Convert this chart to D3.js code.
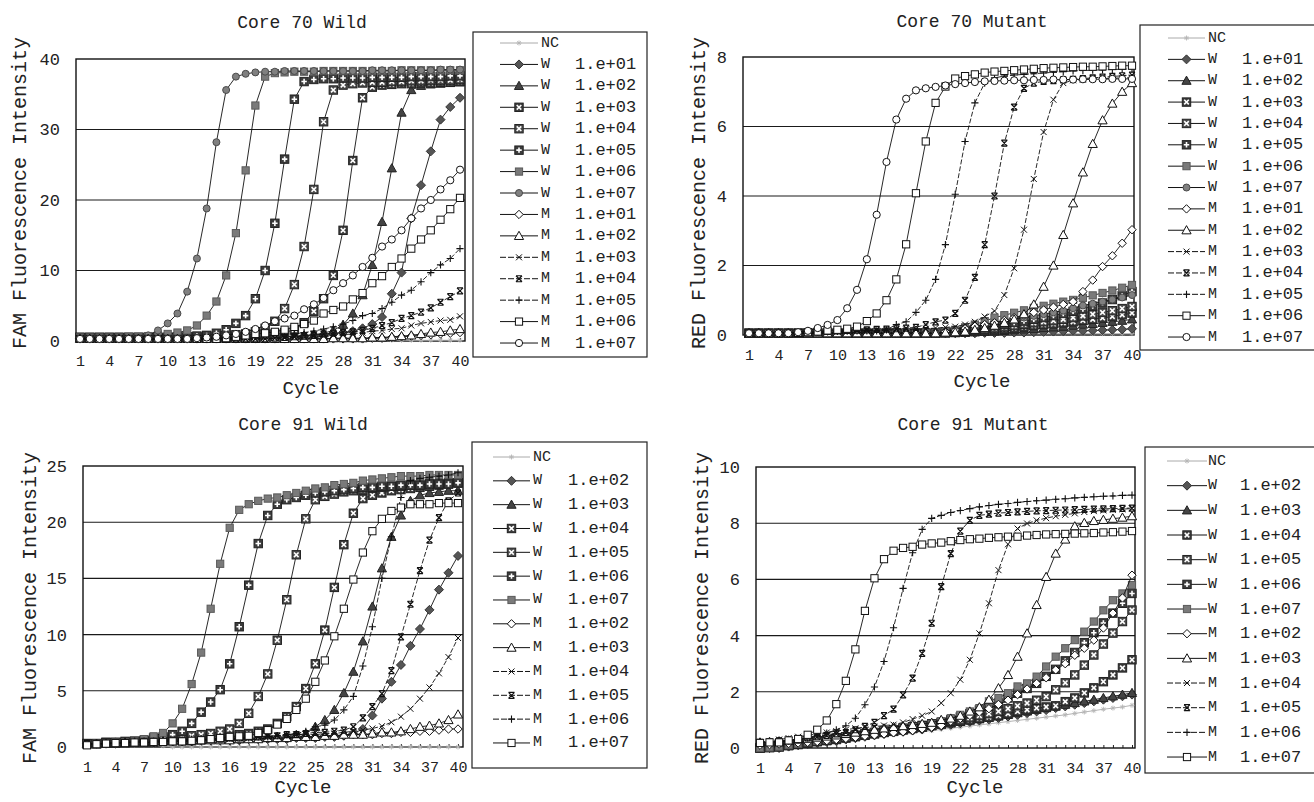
<!DOCTYPE html>
<html lang="en">
<head>
<meta charset="utf-8">
<title>Core 70 / Core 91 amplification curves</title>
<script src="https://cdn.jsdelivr.net/npm/d3@7"></script>
<style>
  body { margin: 0; background: #fff; }
  text { font-family: "Liberation Mono", "DejaVu Sans Mono", monospace; fill: #222; }
</style>
</head>
<body>
<svg id="chart" width="1314" height="802"></svg>
<script>
// ---- data ----
var cycles = d3.range(1, 41);
var cycleTicks = [1, 4, 7, 10, 13, 16, 19, 22, 25, 28, 31, 34, 37, 40];

var labels70 = ["NC", "W 1.e+01", "W 1.e+02", "W 1.e+03", "W 1.e+04", "W 1.e+05", "W 1.e+06", "W 1.e+07",
  "M 1.e+01", "M 1.e+02", "M 1.e+03", "M 1.e+04", "M 1.e+05", "M 1.e+06", "M 1.e+07"];
var labels91 = ["NC", "W 1.e+02", "W 1.e+03", "W 1.e+04", "W 1.e+05", "W 1.e+06", "W 1.e+07",
  "M 1.e+02", "M 1.e+03", "M 1.e+04", "M 1.e+05", "M 1.e+06", "M 1.e+07"];

// Core 70 Wild (FAM)
var core70Wild = [
  [0.2,0.2,0.2,0.2,0.2,0.2,0.2,0.2,0.2,0.2, 0.2,0.2,0.2,0.2,0.2,0.2,0.2,0.2,0.2,0.2, 0.1,0.1,0.1,0.1,0.1,0.1,0.1,0.1,0.1,0.1, 0.1,0.1,0.1,0.1,0.1,0.1,0.1,0.1,0.1,0.1],
  [0.4,0.4,0.4,0.4,0.4,0.4,0.4,0.4,0.4,0.4, 0.4,0.4,0.4,0.4,0.5,0.5,0.5,0.5,0.5,0.5, 0.5,0.6,0.6,0.7,0.8,0.9,1.0,1.2,1.4,1.8, 2.4,3.4,6.7,9.7,17.4,22.1,26.9,31.4,33.2,34.5],
  [0.4,0.4,0.4,0.4,0.4,0.4,0.4,0.4,0.4,0.4, 0.4,0.4,0.5,0.5,0.5,0.5,0.5,0.5,0.6,0.6, 0.6,0.6,0.7,0.8,0.9,1.1,1.5,2.3,3.9,6.5, 10.8,16.9,24.5,32.4,35.6,36.2,36.4,36.5,36.6,36.7],
  [0.5,0.5,0.5,0.5,0.5,0.5,0.5,0.5,0.5,0.5, 0.5,0.5,0.5,0.6,0.6,0.6,0.7,0.7,0.8,0.9, 1.0,1.2,1.6,2.6,4.2,6.0,9.3,15.7,25.6,34.5, 36.0,36.3,36.4,36.5,36.5,36.6,36.6,36.7,36.7,36.8],
  [0.5,0.5,0.5,0.5,0.5,0.5,0.5,0.5,0.5,0.5, 0.5,0.6,0.6,0.7,0.7,0.8,0.9,1.0,1.3,1.8, 2.8,4.6,8.0,13.4,21.5,31.1,35.6,36.3,36.5,36.6, 36.7,36.7,36.8,36.8,36.9,36.9,37.0,37.0,37.0,37.1],
  [0.5,0.5,0.5,0.5,0.5,0.5,0.5,0.5,0.5,0.5, 0.6,0.6,0.7,0.8,1.1,1.6,2.5,3.6,6.0,10.0, 16.7,25.8,34.3,36.8,37.1,37.2,37.2,37.3,37.3,37.3, 37.4,37.4,37.4,37.4,37.5,37.5,37.5,37.5,37.6,37.6],
  [0.5,0.5,0.5,0.5,0.5,0.6,0.6,0.7,0.8,1.0, 1.2,1.5,2.2,3.6,5.6,9.3,15.3,24.2,33.4,37.5, 38.0,38.1,38.2,38.2,38.2,38.3,38.3,38.3,38.3,38.3, 38.3,38.3,38.3,38.4,38.4,38.4,38.4,38.4,38.4,38.4],
  [0.3,0.3,0.3,0.3,0.3,0.3,0.4,0.8,1.5,2.5, 3.9,7.0,11.7,18.8,28.2,35.6,37.5,37.9,38.1,38.2, 38.2,38.3,38.3,38.3,38.3,38.3,38.3,38.3,38.3,38.3, 38.4,38.4,38.4,38.4,38.4,38.4,38.4,38.5,38.5,38.5],
  [0.3,0.3,0.3,0.3,0.3,0.3,0.3,0.3,0.3,0.3, 0.3,0.3,0.3,0.3,0.3,0.3,0.3,0.3,0.3,0.3, 0.3,0.3,0.3,0.3,0.3,0.3,0.3,0.3,0.3,0.3, 0.4,0.4,0.5,0.6,0.7,0.8,0.9,1.0,1.1,1.2],
  [0.3,0.3,0.3,0.3,0.3,0.3,0.3,0.3,0.3,0.3, 0.3,0.3,0.3,0.3,0.3,0.3,0.3,0.3,0.3,0.3, 0.3,0.3,0.3,0.3,0.3,0.3,0.4,0.4,0.4,0.4, 0.5,0.5,0.6,0.7,0.8,1.0,1.2,1.3,1.5,1.7],
  [0.3,0.3,0.3,0.3,0.3,0.3,0.3,0.3,0.3,0.3, 0.3,0.3,0.3,0.3,0.3,0.3,0.3,0.3,0.3,0.3, 0.4,0.4,0.5,0.5,0.6,0.7,0.8,0.9,1.0,1.2, 1.4,1.5,1.7,1.8,2.2,2.5,2.7,2.9,3.0,3.5],
  [0.3,0.3,0.3,0.3,0.3,0.3,0.3,0.3,0.3,0.3, 0.3,0.3,0.3,0.3,0.3,0.3,0.3,0.3,0.3,0.3, 0.4,0.5,0.6,0.7,0.8,1.0,1.1,1.2,1.3,1.5, 1.8,2.2,2.6,3.2,3.6,4.1,4.7,5.5,6.3,7.1],
  [0.3,0.3,0.3,0.3,0.3,0.3,0.3,0.3,0.3,0.3, 0.3,0.3,0.3,0.4,0.4,0.5,0.5,0.6,0.6,0.7, 0.8,0.9,1.0,1.2,1.4,1.7,2.0,2.4,2.9,3.6, 3.9,4.6,5.5,6.5,7.2,8.4,9.7,10.8,11.7,13.1],
  [0.3,0.3,0.3,0.3,0.3,0.3,0.3,0.3,0.3,0.3, 0.3,0.3,0.3,0.3,0.3,0.4,0.6,0.8,1.0,1.1, 1.3,1.6,2.0,2.4,2.9,3.9,4.4,4.9,5.9,6.8, 8.2,9.2,10.5,11.7,13.1,14.4,15.7,17.2,18.7,20.3],
  [0.3,0.3,0.3,0.3,0.3,0.3,0.3,0.3,0.3,0.3, 0.3,0.3,0.4,0.5,0.6,0.8,1.0,1.3,1.7,2.2, 2.8,3.2,3.6,4.5,5.2,6.1,7.2,8.2,9.3,10.5, 11.8,13.4,14.4,15.7,17.4,18.8,20.0,21.5,22.8,24.3]
];

// Core 70 Mutant (RED)
var core70Mutant = [
  [0.05,0.05,0.05,0.05,0.05,0.05,0.05,0.05,0.05,0.05, 0.05,0.05,0.05,0.05,0.05,0.05,0.05,0.05,0.05,0.05, 0.04,0.04,0.04,0.04,0.04,0.04,0.04,0.04,0.04,0.04, 0.04,0.04,0.04,0.04,0.04,0.04,0.04,0.04,0.04,0.04],
  [0.05,0.05,0.05,0.05,0.05,0.05,0.05,0.05,0.05,0.05, 0.05,0.05,0.05,0.05,0.05,0.05,0.05,0.05,0.05,0.05, 0.05,0.05,0.05,0.05,0.06,0.06,0.06,0.07,0.07,0.08, 0.09,0.1,0.11,0.12,0.12,0.13,0.14,0.15,0.16,0.18],
  [0.05,0.05,0.05,0.05,0.05,0.05,0.05,0.05,0.05,0.05, 0.05,0.05,0.05,0.05,0.05,0.05,0.05,0.05,0.05,0.05, 0.05,0.06,0.07,0.08,0.09,0.1,0.12,0.14,0.16,0.18, 0.2,0.22,0.24,0.27,0.3,0.32,0.35,0.38,0.41,0.45],
  [0.05,0.05,0.05,0.05,0.05,0.05,0.05,0.05,0.05,0.05, 0.05,0.05,0.05,0.05,0.05,0.05,0.05,0.05,0.05,0.05, 0.06,0.07,0.08,0.1,0.12,0.15,0.17,0.2,0.23,0.27, 0.3,0.32,0.35,0.38,0.42,0.45,0.49,0.53,0.58,0.63],
  [0.05,0.05,0.05,0.05,0.05,0.05,0.05,0.05,0.05,0.05, 0.05,0.05,0.05,0.05,0.05,0.05,0.05,0.05,0.05,0.05, 0.07,0.08,0.1,0.13,0.16,0.2,0.23,0.27,0.31,0.35, 0.38,0.41,0.45,0.5,0.55,0.6,0.65,0.7,0.76,0.82],
  [0.05,0.05,0.05,0.05,0.05,0.05,0.05,0.05,0.05,0.05, 0.05,0.05,0.05,0.05,0.05,0.05,0.05,0.05,0.05,0.05, 0.08,0.1,0.13,0.17,0.22,0.27,0.31,0.36,0.4,0.45, 0.5,0.56,0.62,0.68,0.75,0.83,0.92,1.02,1.13,1.25],
  [0.05,0.05,0.05,0.05,0.05,0.05,0.05,0.05,0.05,0.05, 0.05,0.05,0.05,0.05,0.05,0.05,0.05,0.05,0.05,0.05, 0.1,0.15,0.22,0.3,0.4,0.5,0.57,0.64,0.71,0.78, 0.84,0.9,0.96,1.01,1.07,1.14,1.21,1.28,1.36,1.44],
  [0.05,0.05,0.05,0.05,0.05,0.05,0.05,0.05,0.05,0.05, 0.05,0.05,0.05,0.05,0.05,0.05,0.05,0.05,0.05,0.05, 0.08,0.12,0.17,0.23,0.29,0.35,0.39,0.44,0.5,0.55, 0.6,0.65,0.7,0.77,0.85,0.9,0.96,1.02,1.08,1.15],
  [0.05,0.05,0.05,0.05,0.05,0.05,0.05,0.05,0.05,0.05, 0.05,0.05,0.05,0.05,0.05,0.05,0.05,0.05,0.05,0.05, 0.1,0.15,0.2,0.25,0.3,0.35,0.42,0.5,0.57,0.65, 0.72,0.8,0.88,0.96,1.25,1.58,1.97,2.28,2.64,3.03],
  [0.05,0.05,0.05,0.05,0.05,0.05,0.05,0.05,0.05,0.05, 0.05,0.05,0.05,0.05,0.05,0.05,0.05,0.05,0.05,0.05, 0.07,0.08,0.1,0.15,0.2,0.27,0.35,0.45,0.6,0.88, 1.39,2.0,2.88,3.79,4.68,5.5,6.18,6.66,7.0,7.25],
  [0.05,0.05,0.05,0.05,0.05,0.06,0.07,0.08,0.09,0.1, 0.1,0.11,0.12,0.13,0.14,0.15,0.16,0.17,0.18,0.2, 0.22,0.24,0.3,0.38,0.53,0.69,1.15,1.92,3.03,4.49, 5.84,6.77,7.25,7.33,7.35,7.37,7.38,7.39,7.4,7.4],
  [0.05,0.05,0.05,0.05,0.05,0.06,0.07,0.08,0.1,0.12, 0.13,0.14,0.15,0.16,0.17,0.18,0.2,0.22,0.3,0.38, 0.43,0.62,1.0,1.66,2.6,4.0,5.52,6.56,7.1,7.25, 7.3,7.32,7.34,7.36,7.38,7.4,7.42,7.44,7.46,7.48],
  [0.05,0.05,0.05,0.05,0.05,0.06,0.07,0.08,0.09,0.1, 0.11,0.12,0.12,0.12,0.15,0.3,0.38,0.65,1.0,1.6, 2.6,4.05,5.57,6.68,7.25,7.4,7.45,7.48,7.5,7.52, 7.54,7.56,7.58,7.6,7.61,7.62,7.63,7.64,7.65,7.66],
  [0.05,0.05,0.05,0.05,0.05,0.06,0.08,0.1,0.13,0.15, 0.18,0.24,0.4,0.62,1.0,1.6,2.61,4.08,5.57,6.68, 7.15,7.38,7.45,7.5,7.55,7.58,7.6,7.62,7.64,7.66, 7.68,7.69,7.7,7.71,7.72,7.72,7.73,7.74,7.75,7.75],
  [0.05,0.05,0.05,0.05,0.05,0.08,0.12,0.2,0.29,0.43, 0.77,1.3,2.18,3.46,4.98,6.2,6.8,7.04,7.1,7.14, 7.18,7.22,7.25,7.28,7.3,7.31,7.32,7.33,7.33,7.34, 7.34,7.35,7.35,7.35,7.36,7.36,7.36,7.37,7.37,7.37]
];

// Core 91 Wild (FAM)
var core91Wild = [
  [0.2,0.2,0.2,0.2,0.2,0.2,0.2,0.2,0.1,0.0, 0.0,0.0,0.0,0.0,0.0,0.0,0.0,0.0,0.0,0.0, 0.0,0.0,0.0,0.0,0.0,0.0,0.0,0.0,0.0,0.0, 0.0,0.0,0.0,0.0,0.0,0.0,0.0,0.0,0.0,0.0],
  [0.3,0.3,0.3,0.4,0.4,0.4,0.5,0.5,0.5,0.5, 0.5,0.5,0.6,0.6,0.6,0.6,0.6,0.7,0.7,0.7, 0.7,0.7,0.8,0.8,0.8,0.9,0.9,1.0,1.2,1.6, 2.8,4.3,5.8,7.3,9.0,10.5,12.2,14.0,15.5,17.0],
  [0.3,0.3,0.3,0.4,0.4,0.4,0.5,0.5,0.5,0.6, 0.6,0.6,0.6,0.7,0.7,0.7,0.7,0.8,0.8,0.8, 0.9,0.9,1.0,1.2,1.8,2.4,3.3,4.8,6.7,9.4, 12.5,15.9,18.7,20.6,21.9,22.4,22.6,22.7,22.8,22.8],
  [0.3,0.3,0.4,0.4,0.4,0.5,0.5,0.6,0.6,0.7, 0.7,0.8,0.8,0.9,0.9,1.0,1.1,1.2,1.4,1.6, 2.1,2.7,3.6,5.2,7.4,10.4,14.2,18.0,20.8,22.1, 22.4,22.6,22.8,22.9,23.0,23.1,23.2,23.3,23.4,23.5],
  [0.3,0.3,0.4,0.4,0.4,0.5,0.5,0.6,0.7,0.8, 0.9,1.0,1.1,1.2,1.4,1.6,2.1,3.0,4.5,6.5, 9.5,13.1,17.1,20.3,22.0,22.3,22.5,22.7,22.8,22.9, 23.0,23.1,23.2,23.2,23.3,23.3,23.4,23.4,23.5,23.5],
  [0.3,0.3,0.4,0.4,0.5,0.5,0.6,0.8,0.9,1.1, 1.4,2.1,3.1,4.0,5.1,7.4,10.7,14.4,18.1,20.6, 21.6,22.0,22.2,22.4,22.6,22.7,22.8,22.9,23.0,23.1, 23.1,23.2,23.2,23.3,23.3,23.3,23.4,23.4,23.4,23.5],
  [0.2,0.3,0.3,0.4,0.4,0.5,0.7,0.95,1.25,2.1, 3.4,5.6,8.4,12.3,16.3,19.5,21.1,21.6,21.9,22.1, 22.2,22.4,22.6,22.8,23.0,23.1,23.3,23.4,23.5,23.7, 23.8,23.9,24.0,24.1,24.1,24.1,24.2,24.2,24.2,24.2],
  [0.3,0.3,0.3,0.3,0.4,0.4,0.4,0.4,0.5,0.5, 0.5,0.5,0.6,0.6,0.6,0.6,0.7,0.7,0.7,0.8, 0.8,0.8,0.9,0.9,0.9,1.0,1.0,1.0,1.1,1.1, 1.1,1.2,1.2,1.3,1.3,1.4,1.4,1.5,1.6,1.6],
  [0.3,0.3,0.3,0.3,0.4,0.4,0.4,0.4,0.5,0.5, 0.5,0.5,0.6,0.6,0.6,0.6,0.7,0.7,0.7,0.8, 0.8,0.8,0.9,0.9,0.9,1.0,1.0,1.1,1.1,1.1, 1.2,1.3,1.3,1.4,1.6,1.8,1.9,2.1,2.4,2.9],
  [0.3,0.3,0.3,0.3,0.4,0.4,0.4,0.5,0.5,0.5, 0.6,0.6,0.6,0.7,0.7,0.7,0.8,0.8,0.9,0.9, 1.0,1.0,1.1,1.1,1.1,1.2,1.2,1.3,1.4,1.5, 1.65,1.85,2.2,2.7,3.4,4.3,5.3,6.55,8.0,9.7],
  [0.3,0.3,0.3,0.4,0.4,0.4,0.5,0.5,0.5,0.6, 0.6,0.6,0.7,0.7,0.7,0.8,0.8,0.9,0.9,1.0, 1.0,1.1,1.1,1.2,1.3,1.3,1.4,1.5,1.8,2.6, 3.6,4.75,6.8,9.8,12.7,15.7,18.4,20.4,21.9,22.6],
  [0.3,0.3,0.3,0.4,0.4,0.5,0.5,0.5,0.6,0.6, 0.6,0.7,0.7,0.7,0.8,0.8,0.8,0.8,0.9,0.9, 1.0,1.1,1.2,1.4,1.8,1.95,2.4,3.3,4.5,7.2, 10.7,15.0,18.7,22.2,23.7,23.9,24.0,24.1,24.2,24.4],
  [0.15,0.25,0.3,0.35,0.35,0.4,0.4,0.45,0.45,0.5, 0.5,0.55,0.6,0.7,0.8,0.9,0.95,1.0,1.25,1.5, 2.0,2.5,3.3,4.3,5.8,7.7,9.85,12.3,14.9,17.3, 19.2,20.3,21.0,21.3,21.6,21.6,21.6,21.7,21.7,21.7]
];

// Core 91 Mutant (RED)
var core91Mutant = [
  [0.0,0.0,0.0,0.02,0.05,0.1,0.15,0.2,0.25,0.3, 0.33,0.37,0.4,0.44,0.48,0.5,0.55,0.58,0.62,0.66, 0.7,0.74,0.78,0.82,0.86,0.9,0.94,0.98,1.02,1.06, 1.1,1.14,1.18,1.23,1.28,1.33,1.38,1.42,1.46,1.52],
  [0.0,0.0,0.0,0.05,0.1,0.14,0.18,0.22,0.25,0.3, 0.35,0.4,0.45,0.5,0.55,0.58,0.62,0.66,0.72,0.78, 0.83,0.88,0.93,0.98,1.02,1.07,1.12,1.18,1.24,1.3, 1.35,1.42,1.48,1.54,1.6,1.66,1.72,1.78,1.84,1.9],
  [0.0,0.0,0.02,0.06,0.1,0.15,0.2,0.24,0.28,0.33, 0.38,0.43,0.48,0.53,0.57,0.62,0.67,0.72,0.78,0.84, 0.88,0.93,0.98,1.03,1.08,1.13,1.18,1.24,1.3,1.36, 1.42,1.48,1.54,1.6,1.66,1.72,1.78,1.84,1.9,1.96],
  [0.0,0.02,0.05,0.1,0.14,0.19,0.24,0.28,0.33,0.38, 0.42,0.47,0.52,0.57,0.62,0.66,0.7,0.75,0.8,0.85, 0.9,0.95,1.0,1.05,1.1,1.15,1.22,1.3,1.36,1.42, 1.46,1.5,1.65,1.78,1.96,2.14,2.36,2.6,2.85,3.14],
  [0.0,0.02,0.05,0.1,0.15,0.2,0.25,0.3,0.35,0.4, 0.45,0.5,0.55,0.6,0.65,0.7,0.75,0.8,0.85,0.9, 0.95,1.0,1.08,1.15,1.22,1.3,1.4,1.5,1.6,1.7, 1.83,2.07,2.32,2.6,2.95,3.31,3.7,4.09,4.5,4.91],
  [0.0,0.02,0.05,0.1,0.15,0.2,0.25,0.3,0.35,0.4, 0.45,0.5,0.55,0.6,0.65,0.7,0.75,0.8,0.86,0.92, 1.0,1.1,1.22,1.35,1.48,1.6,1.78,1.95,2.12,2.3, 2.55,2.8,3.1,3.4,3.75,4.1,4.45,4.8,5.15,5.5],
  [0.0,0.02,0.05,0.1,0.15,0.2,0.25,0.3,0.35,0.4, 0.45,0.5,0.55,0.6,0.65,0.7,0.74,0.78,0.85,0.95, 1.06,1.18,1.3,1.42,1.66,1.78,1.95,2.19,2.3,2.54, 2.9,3.25,3.55,3.84,4.14,4.5,4.9,5.26,5.5,5.8],
  [0.1,0.12,0.14,0.16,0.18,0.2,0.23,0.26,0.3,0.34, 0.38,0.42,0.46,0.5,0.54,0.58,0.62,0.68,0.74,0.8, 0.95,1.05,1.16,1.28,1.4,1.55,1.7,1.9,2.1,2.3, 2.5,2.78,3.0,3.3,3.55,3.84,4.27,4.8,5.34,6.15],
  [0.2,0.22,0.24,0.27,0.3,0.33,0.37,0.41,0.45,0.5, 0.55,0.6,0.65,0.7,0.75,0.78,0.82,0.86,0.9,1.0, 1.05,1.15,1.3,1.45,1.72,2.13,2.6,3.25,4.08,5.09, 6.09,6.92,7.42,7.89,8.01,8.08,8.12,8.16,8.2,8.25],
  [0.2,0.25,0.3,0.35,0.4,0.45,0.5,0.55,0.6,0.65, 0.7,0.73,0.76,0.8,0.83,0.91,1.03,1.15,1.3,1.6, 1.95,2.43,3.14,4.08,5.15,6.33,7.25,7.81,7.99,8.1, 8.18,8.25,8.3,8.35,8.4,8.43,8.46,8.48,8.5,8.52],
  [0.2,0.22,0.25,0.28,0.32,0.36,0.4,0.45,0.5,0.55, 0.65,0.77,0.91,1.15,1.38,1.89,2.49,3.37,4.44,5.74, 6.92,7.72,8.1,8.28,8.32,8.36,8.38,8.4,8.42,8.44, 8.45,8.46,8.47,8.48,8.49,8.5,8.51,8.52,8.53,8.54],
  [0.18,0.2,0.22,0.25,0.3,0.36,0.45,0.53,0.65,0.79, 1.06,1.54,2.17,3.08,4.28,5.68,6.95,7.78,8.17,8.28, 8.38,8.45,8.52,8.58,8.63,8.67,8.7,8.74,8.77,8.8, 8.82,8.85,8.87,8.9,8.92,8.94,8.96,8.97,8.99,9.0],
  [0.18,0.2,0.2,0.27,0.32,0.47,0.65,0.98,1.56,2.39, 3.51,4.88,6.04,6.72,7.02,7.12,7.16,7.24,7.28,7.31, 7.36,7.4,7.43,7.45,7.48,7.5,7.52,7.52,7.56,7.58, 7.6,7.61,7.62,7.63,7.64,7.65,7.67,7.68,7.7,7.72]
];

var markers70 = ["nc", "fdiamond", "ftri", "sqx", "sqx2", "sqplus", "fsq", "fcirc",
  "odiamond", "otri", "x", "xbold", "plus", "osq", "ocirc"];
var markers91 = ["nc", "fdiamond", "ftri", "sqx", "sqx2", "sqplus", "fsq",
  "odiamond", "otri", "x", "xbold", "plus", "osq"];

// ---- layout ----
var panels = [
  { title: "Core 70 Wild", yLabel: "FAM Fluorescence Intensity", yMax: 40, yTicks: [0, 10, 20, 30, 40],
    labels: labels70, values: core70Wild, markers: markers70,
    x1: 80, x40: 460, left: 76, right: 465, top: 59, bottom: 341,
    titleX: 302, titleY: 23, cycleX: 311, cycleY: 389, ylabX: 20, ylabY: 193,
    legend: { x: 473, y: 32, w: 174, h: 325, row0: 43, step: 21.43, lineX: 500, lineW: 38, labX: 541, valX: 575 } },
  { title: "Core 70 Mutant", yLabel: "RED Fluorescence Intensity", yMax: 8, yTicks: [0, 2, 4, 6, 8],
    labels: labels70, values: core70Mutant, markers: markers70,
    x1: 749, x40: 1132, left: 743, right: 1134, top: 57, bottom: 335,
    titleX: 972, titleY: 22, cycleX: 982, cycleY: 382, ylabX: 699, ylabY: 193,
    legend: { x: 1140, y: 25, w: 185, h: 325, row0: 38, step: 21.36, lineX: 1168, lineW: 37, labX: 1208, valX: 1242 } },
  { title: "Core 91 Wild", yLabel: "FAM Fluorescence Intensity", yMax: 25, yTicks: [0, 5, 10, 15, 20, 25],
    labels: labels91, values: core91Wild, markers: markers91,
    x1: 87, x40: 458, left: 83, right: 463, top: 466, bottom: 747,
    titleX: 303, titleY: 425, cycleX: 303, cycleY: 788, ylabX: 30, ylabY: 608,
    legend: { x: 472, y: 442, w: 175, h: 326, row0: 457, step: 23.83, lineX: 493, lineW: 37, labX: 533, valX: 568 } },
  { title: "Core 91 Mutant", yLabel: "RED Fluorescence Intensity", yMax: 10, yTicks: [0, 2, 4, 6, 8, 10],
    labels: labels91, values: core91Mutant, markers: markers91,
    x1: 760, x40: 1132, left: 756, right: 1135, top: 467, bottom: 748,
    titleX: 973, titleY: 425, cycleX: 975, cycleY: 788, ylabX: 702, ylabY: 608,
    legend: { x: 1145, y: 447, w: 180, h: 326, row0: 461, step: 24.67, lineX: 1167, lineW: 40, labX: 1208, valX: 1240 } }
];

var svg = d3.select("#chart");

function drawMarker(m, type) {
  switch (type) {
    case "nc":
      m.append("path").attr("d", "M-2.5,0H2.5M0,-2.5V2.5M-1.8,-1.8L1.8,1.8M-1.8,1.8L1.8,-1.8")
        .attr("stroke", "#b5b5b5").attr("stroke-width", 0.9);
      break;
    case "fdiamond":
      m.append("path").attr("d", "M0,-4.5L4.5,0L0,4.5L-4.5,0Z").attr("fill", "#555").attr("stroke", "#333");
      break;
    case "ftri":
      m.append("path").attr("d", "M0,-4.6L4.6,3.6L-4.6,3.6Z").attr("fill", "#444").attr("stroke", "#222");
      break;
    case "sqx":
    case "sqx2":
      m.append("rect").attr("x", -4.2).attr("y", -4.2).attr("width", 8.4).attr("height", 8.4)
        .attr("fill", type === "sqx" ? "#3c3c3c" : "#4c4c4c").attr("stroke", "#222");
      m.append("path").attr("d", "M-2.3,-2.3L2.3,2.3M-2.3,2.3L2.3,-2.3").attr("stroke", "#fff").attr("stroke-width", 1.6);
      break;
    case "sqplus":
      m.append("rect").attr("x", -4.2).attr("y", -4.2).attr("width", 8.4).attr("height", 8.4)
        .attr("fill", "#3c3c3c").attr("stroke", "#222");
      m.append("path").attr("d", "M-2.7,0H2.7M0,-2.7V2.7").attr("stroke", "#fff").attr("stroke-width", 1.6);
      break;
    case "fsq":
      m.append("rect").attr("x", -3.6).attr("y", -3.6).attr("width", 7.2).attr("height", 7.2)
        .attr("fill", "#7a7a7a").attr("stroke", "#5a5a5a");
      break;
    case "fcirc":
      m.append("circle").attr("r", 3.5).attr("fill", "#808080").attr("stroke", "#4a4a4a");
      break;
    case "odiamond":
      m.append("path").attr("d", "M0,-4.2L4.2,0L0,4.2L-4.2,0Z").attr("fill", "#fff").attr("stroke", "#111");
      break;
    case "otri":
      m.append("path").attr("d", "M0,-4.6L4.6,3.6L-4.6,3.6Z").attr("fill", "#fff").attr("stroke", "#111");
      break;
    case "x":
      m.append("path").attr("d", "M-3,-3L3,3M-3,3L3,-3").attr("stroke", "#111").attr("stroke-width", 1);
      break;
    case "xbold":
      m.append("path").attr("d", "M-3,-3L3,3M-3,3L3,-3M-3,-3H3M-3,3H3").attr("stroke", "#111").attr("stroke-width", 1.2);
      break;
    case "plus":
      m.append("path").attr("d", "M-3.6,0H3.6M0,-3.6V3.6").attr("stroke", "#111").attr("stroke-width", 1.1);
      break;
    case "osq":
      m.append("rect").attr("x", -3.6).attr("y", -3.6).attr("width", 7.2).attr("height", 7.2)
        .attr("fill", "#fff").attr("stroke", "#111");
      break;
    case "ocirc":
      m.append("circle").attr("r", 3.6).attr("fill", "#fff").attr("stroke", "#111");
      break;
  }
}

function lineColor(type) { return type === "nc" ? "#aaa" : "#111"; }
function lineDash(type) { return (type === "x" || type === "xbold" || type === "plus") ? "5,2" : null; }

function drawPanel(p) {
  var x = d3.scaleLinear().domain([1, 40]).range([p.x1, p.x40]);
  var y = d3.scaleLinear().domain([0, p.yMax]).range([p.bottom, p.top]);
  var g = svg.append("g");

  // grid lines
  g.selectAll("line.grid").data(p.yTicks.filter(function (v) { return v > 0 && v < p.yMax; }))
    .join("line").attr("class", "grid")
    .attr("x1", p.left).attr("x2", p.right)
    .attr("y1", function (d) { return y(d); }).attr("y2", function (d) { return y(d); })
    .attr("stroke", "#1a1a1a").attr("stroke-width", 1.1);

  // y axis labels
  var ya = g.append("g").attr("transform", "translate(" + p.left + ",0)")
    .call(d3.axisLeft(y).tickValues(p.yTicks).tickSize(0).tickPadding(16));
  ya.select(".domain").remove();
  ya.selectAll("text").attr("font-size", 17).attr("font-family", "Liberation Mono").attr("fill", "#222");

  // x axis labels + small cycle ticks
  var xa = g.append("g").attr("transform", "translate(0," + p.bottom + ")")
    .call(d3.axisBottom(x).tickValues(cycleTicks).tickSize(0).tickPadding(14));
  xa.select(".domain").remove();
  xa.selectAll("text").attr("font-size", 15).attr("font-family", "Liberation Mono").attr("fill", "#222");
  var xm = g.append("g").attr("transform", "translate(0," + p.bottom + ")")
    .call(d3.axisBottom(x).tickValues(cycles).tickSize(-3).tickFormat(""));
  xm.select(".domain").remove();
  xm.selectAll("line").attr("stroke", "#222");

  // frame
  g.append("rect").attr("x", p.left).attr("y", p.top)
    .attr("width", p.right - p.left).attr("height", p.bottom - p.top)
    .attr("fill", "none").attr("stroke", "#111").attr("stroke-width", 1.4);

  // series
  var line = d3.line().x(function (d, i) { return x(cycles[i]); }).y(function (d) { return y(d); });
  p.values.forEach(function (vals, si) {
    var type = p.markers[si];
    var s = g.append("g");
    s.append("path").attr("d", line(vals)).attr("fill", "none")
      .attr("stroke", lineColor(type)).attr("stroke-width", 0.9).attr("stroke-dasharray", lineDash(type));
    s.selectAll("g.mk").data(vals).join("g").attr("class", "mk")
      .attr("transform", function (d, i) { return "translate(" + x(cycles[i]) + "," + y(d) + ")"; })
      .each(function () { drawMarker(d3.select(this), type); });
  });

  // titles
  g.append("text").attr("x", p.titleX).attr("y", p.titleY).attr("text-anchor", "middle")
    .attr("dominant-baseline", "central").attr("font-size", 18).text(p.title);
  g.append("text").attr("x", p.cycleX).attr("y", p.cycleY).attr("text-anchor", "middle")
    .attr("dominant-baseline", "central").attr("font-size", 19).text("Cycle");
  g.append("text").attr("transform", "translate(" + p.ylabX + "," + p.ylabY + ") rotate(-90)")
    .attr("text-anchor", "middle").attr("dominant-baseline", "central").attr("font-size", 20).text(p.yLabel);

  // legend
  var L = p.legend;
  var lg = g.append("g");
  lg.append("rect").attr("x", L.x).attr("y", L.y).attr("width", L.w).attr("height", L.h)
    .attr("fill", "#fff").attr("stroke", "#222").attr("stroke-width", 1.2);
  p.labels.forEach(function (lab, i) {
    var type = p.markers[i];
    var ry = L.row0 + i * L.step;
    var parts = lab.split(" ");
    lg.append("line").attr("x1", L.lineX).attr("x2", L.lineX + L.lineW).attr("y1", ry).attr("y2", ry)
      .attr("stroke", lineColor(type)).attr("stroke-width", 1).attr("stroke-dasharray", lineDash(type) ? "6,2" : null);
    drawMarker(lg.append("g").attr("transform", "translate(" + (L.lineX + L.lineW / 2) + "," + ry + ")"), type);
    lg.append("text").attr("x", L.labX).attr("y", ry).attr("dominant-baseline", "central")
      .attr("font-family", "Liberation Serif").attr("font-size", 15).text(parts[0]);
    if (parts[1]) {
      lg.append("text").attr("x", L.valX).attr("y", ry).attr("dominant-baseline", "central")
        .attr("font-size", 17).text(parts[1]);
    }
  });
}

panels.forEach(drawPanel);
</script>
</body>
</html>
